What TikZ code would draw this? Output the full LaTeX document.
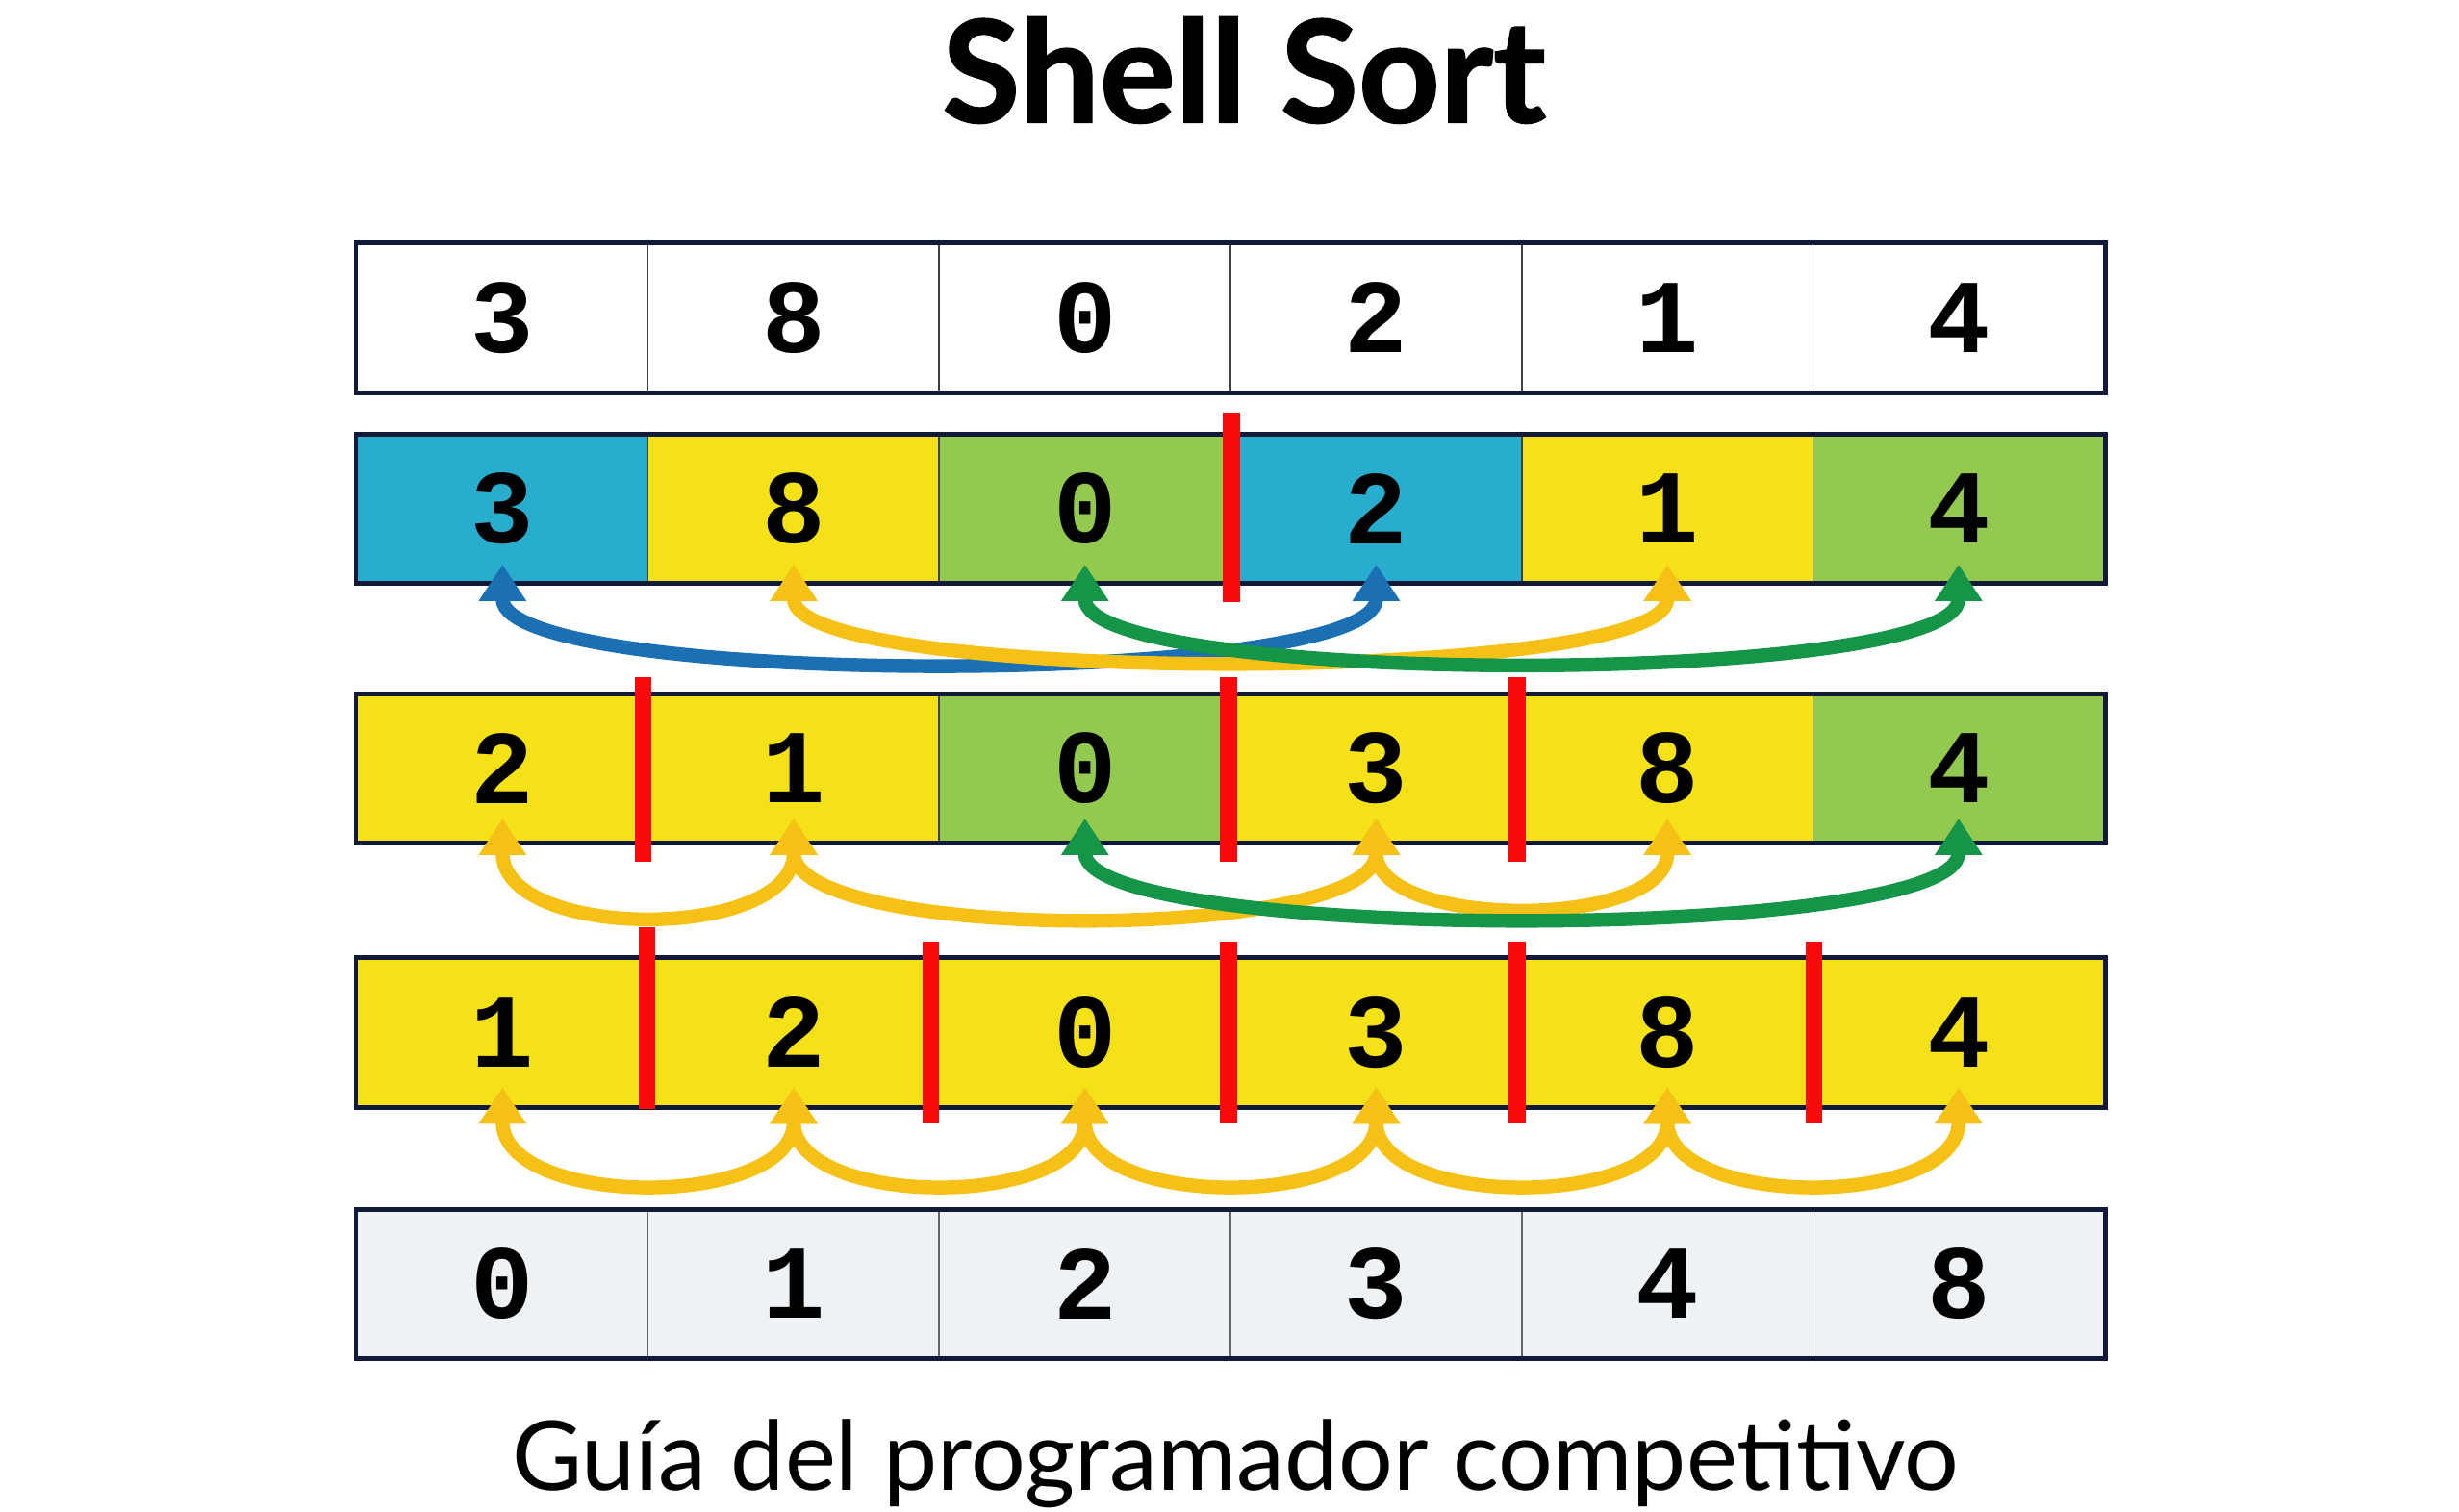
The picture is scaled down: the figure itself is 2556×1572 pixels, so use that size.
\documentclass[tikz,border=0pt]{standalone}
\usepackage{fontspec}
\setmainfont{Lato}
\newfontfamily\cellfont{Liberation Mono}
\usetikzlibrary{arrows.meta,calc}
\definecolor{navy}{HTML}{111A3A}
\definecolor{cblue}{HTML}{29ADCE}
\definecolor{cyellow}{HTML}{F5E117}
\definecolor{cgreen}{HTML}{93C94E}
\definecolor{cgrey}{HTML}{EEF2F4}
\definecolor{ablue}{HTML}{1B6FB3}
\definecolor{ayellow}{HTML}{F6C116}
\definecolor{agreen}{HTML}{159547}
\definecolor{cutred}{HTML}{F70A0A}

\begin{document}
\begin{tikzpicture}[x=0.01cm,y=-0.01cm,
    cell/.style={draw=black!75,line width=0.5pt,minimum width=3.027cm,
                 minimum height=1.54cm,inner sep=0pt,
                 font=\cellfont\bfseries\fontsize{31}{31}\selectfont},
    frame/.style={draw=navy,line width=1.4pt},
    swap/.style={line width=4.1pt,
                 {Triangle[length=0.38cm,width=0.47cm]}-{Triangle[length=0.38cm,width=0.47cm]}},
    cut/.style={draw=cutred,line width=5pt}]
  \useasboundingbox (0,0) rectangle (2556,1572);

  \node[font=\bfseries\fontsize{42}{42}\selectfont\addfontfeature{FakeBold=1.2}] (title) at (1293,73) {Shell Sort};

  % the five rows of the array
  \foreach \v [count=\i] in {3,8,0,2,1,4}
    \node[cell,fill=white] (r1c\i) at ({371+302.7*(\i-0.5)},330.5) {\v};
  \foreach \v/\c [count=\i] in {3/cblue,8/cyellow,0/cgreen,2/cblue,1/cyellow,4/cgreen}
    \node[cell,fill=\c] (r2c\i) at ({371+302.7*(\i-0.5)},529) {\v};
  \foreach \v/\c [count=\i] in {2/cyellow,1/cyellow,0/cgreen,3/cyellow,8/cyellow,4/cgreen}
    \node[cell,fill=\c] (r3c\i) at ({371+302.7*(\i-0.5)},799) {\v};
  \foreach \v [count=\i] in {1,2,0,3,8,4}
    \node[cell,fill=cyellow,draw=cyellow] (r4c\i) at ({371+302.7*(\i-0.5)},1073.5) {\v};
  \foreach \v [count=\i] in {0,1,2,3,4,8}
    \node[cell,fill=cgrey,draw=black!60] (r5c\i) at ({371+302.7*(\i-0.5)},1335) {\v};
  \foreach \r in {1,...,5}
    \draw[frame] (r\r c1.north west) rectangle (r\r c6.south east);

  % gap 3
  \draw[swap,ablue] ([yshift=0.2cm]r2c1.south) .. controls +(0,129) and +(0,129) .. ([yshift=0.2cm]r2c4.south);
  \draw[swap,ayellow] ([yshift=0.2cm]r2c2.south) .. controls +(0,126) and +(0,126) .. ([yshift=0.2cm]r2c5.south);
  \draw[swap,agreen] ([yshift=0.2cm]r2c3.south) .. controls +(0,128) and +(0,128) .. ([yshift=0.2cm]r2c6.south);
  \draw[cut] ([yshift=0.22cm]r2c3.north east) -- ([yshift=-0.19cm]r2c3.south east);

  % gap 2
  \draw[swap,ayellow] ([yshift=0.26cm]r3c1.south) .. controls +(0,128) and +(0,128) .. ([yshift=0.26cm]r3c2.south);
  \draw[swap,ayellow] ([yshift=0.26cm]r3c2.south) .. controls +(0,130) and +(0,130) .. ([yshift=0.26cm]r3c4.south);
  \draw[swap,ayellow] ([yshift=0.26cm]r3c4.south) .. controls +(0,116) and +(0,116) .. ([yshift=0.26cm]r3c5.south);
  \draw[swap,agreen] ([yshift=0.26cm]r3c3.south) .. controls +(0,130) and +(0,130) .. ([yshift=0.26cm]r3c6.south);
  \foreach \c/\s in {1/-0.06,3/-0.03,4/-0.06}
    \draw[cut] ([xshift=\s cm,yshift=0.17cm]r3c\c.north east) -- ([xshift=\s cm,yshift=-0.19cm]r3c\c.south east);

  % gap 1
  \foreach \a/\b in {1/2,2/3,3/4,4/5,5/6}
    \draw[swap,ayellow] ([yshift=0.21cm]r4c\a.south) .. controls +(0,127) and +(0,127) .. ([yshift=0.21cm]r4c\b.south);
  \draw[cut] ([xshift=-0.02cm,yshift=0.32cm]r4c1.north east) -- ([xshift=-0.02cm,yshift=-0.02cm]r4c1.south east);
  \foreach \c/\s in {2/-0.1,3/-0.03,4/-0.06,5/0}
    \draw[cut] ([xshift=\s cm,yshift=0.17cm]r4c\c.north east) -- ([xshift=\s cm,yshift=-0.17cm]r4c\c.south east);

  \node[anchor=base,font=\fontsize{28.5}{28.5}\selectfont] (subtitle) at (1284,1549) {Guía del programador competitivo};
\end{tikzpicture}
\end{document}
